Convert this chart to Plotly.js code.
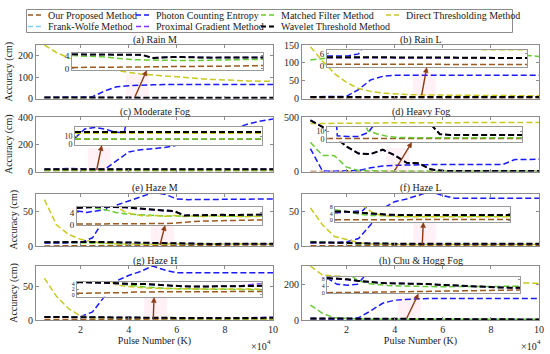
<!DOCTYPE html>
<html><head><meta charset="utf-8">
<script src="https://cdn.plot.ly/plotly-3.0.1.min.js"></script>
<style>html,body{margin:0;padding:0;background:#fff;}#chart{width:550px;height:354px;}</style>
</head><body><div id="chart"></div>
<script>
// ---------------- DATA ----------------
const pulses = [5000,10000,15000,20000,25000,30000,35000,40000,45000,50000,55000,60000,65000,70000,75000,80000,85000,90000,95000,100000];
const methods = ["Our Proposed Method","Photon Counting Entropy","Matched Filter Method","Direct Thresholding Method","Frank-Wolfe Method","Proximal Gradient Method","Wavelet Threshold Method"];
const panelTitles = ["(a) Rain M","(b) Rain L","(c) Moderate Fog","(d) Heavy Fog","(e) Haze M","(f) Haze L","(g) Haze H","(h) Chu & Hogg Fog"];
const xTickVals = [20000,40000,60000,80000,100000];
const xTickText = ["2","4","6","8","10"];

// (a) Rain M
const a_ours = [0.3,0.3,0.35,0.4,0.4,0.45,0.45,0.5,0.5,0.55,0.55,0.6,0.6,0.65,0.7,0.7,0.75,0.8,0.85,0.9];
const a_pce  = [5,5,5,5.2,8,35,55,60,63,64,65,65,65,65,65,65,65,65,65,65];
const a_mf   = [4.1,4.0,3.9,3.7,3.4,3.0,2.8,2.7,2.6,2.6,2.5,2.5,2.5,2.6,2.6,2.7,2.7,2.8,2.8,2.9];
const a_dt   = [250,215,190,170,152,140,130,122,115,110,104,100,96,92,89,86,84,82,81,80];
const a_fw   = [4.5,4.5,4.4,4.5,4.5,4.5,4.4,4.3,3.3,3.5,3.6,3.6,3.5,3.5,3.4,3.5,3.5,3.5,3.5,3.5];
const a_pg   = [4.4,4.4,4.4,4.5,4.4,4.4,4.4,4.2,3.4,3.5,3.6,3.5,3.6,3.5,3.5,3.5,3.5,3.5,3.5,3.5];
const a_wt   = [4.5,4.5,4.4,4.5,4.5,4.5,4.4,4.3,3.3,3.5,3.6,3.6,3.5,3.5,3.4,3.5,3.5,3.5,3.5,3.5];
// (b) Rain L
const b_ours = [0.9,0.9,0.9,0.85,0.85,0.85,0.85,0.8,0.8,0.8,0.8,0.8,0.8,0.8,0.8,0.8,0.8,0.8,0.8,0.8];
const b_pce  = [5,5,5,6,25,52,62,65,65,65,65,65,65,65,65,65,65,65,65,65];
const b_mf   = [108,112,117,121,125,128,130,132,134,136,137,137,136,134,131,128,125,122,120,118];
const b_dt   = [145,105,70,45,28,20,15,12,11,10,9.5,9,9,8.5,8.5,8,8,8,8,8];
const b_fw   = [4.4,4.4,4.4,4.3,4.3,4.3,4.3,4.2,4.2,4.2,4.2,4.1,4.1,4.1,4.1,4.1,4.0,4.0,4.0,4.0];
const b_pg   = [4.1,4.1,4.1,4.0,4.0,4.0,4.0,4.0,4.0,4.0,3.9,3.9,3.9,3.9,3.9,3.9,3.9,3.9,3.9,3.9];
const b_wt   = [4.4,4.4,4.4,4.3,4.3,4.3,4.3,4.2,4.2,4.2,4.2,4.1,4.1,4.1,4.1,4.1,4.0,4.0,4.0,4.0];
// (c) Moderate Fog
const c_ours = [6.5,6.5,6.5,6.5,6.5,6.5,6.5,6.5,6.5,6.5,6.5,6.5,6.5,6.5,6.5,6.5,6.5,6.5,6.5,6.5];
const c_pce  = [8,20,22,20,16,15,80,145,162,170,178,195,215,240,270,300,330,355,375,390];
const c_mf   = [7,7,7,7,7,7,7,7,7,7,7,7,7,7,7,7,7,7,7,7];
const c_dt   = [14.5,14.5,14.5,14.5,14.5,14.5,14.5,14.5,14.5,14.5,14.5,14.5,14.5,14.5,14.5,14.5,14.5,14.5,14.5,14.5];
const c_fw   = [16,16,16,16,16,16,16,16,16,16,16,16,16,16,16,16,16,16,16,16];
const c_pg   = [16,16,16,16,16,16,16,16,16,16,16,16,16,16,16,16,16,16,16,16];
const c_wt   = [16,16,16,16,16,16,16,16,16,16,16,16,16,16,16,16,16,16,16,16];
// (d) Heavy Fog
const d_ours = [0.5,0.5,0.5,0.5,0.5,0.5,0.5,0.5,0.5,0.5,0.5,0.5,0.5,0.5,0.5,0.5,0.5,0.5,0.5,0.5];
const d_pce  = [210,4,3,3,8,35,50,57,60,62,63,65,65,66,66,68,65,110,112,112];
const d_mf   = [268,148,145,40,10,6,3,2,1.5,1.5,1.5,1.5,1.5,1.5,1.5,1.5,1.5,1.5,1.5,1.5];
const d_dt   = [440,442,443,444,445,446,446,447,447,448,448,448,449,449,449,450,450,450,450,450];
const d_fw   = [470,410,320,230,165,160,200,150,80,75,20,6,5,5,5,5,5,5,5,5];
const d_pg   = [470,410,320,230,165,160,200,150,80,75,20,6,5,5,5,5,5,5,5,5];
const d_wt   = [470,410,320,230,165,160,200,150,80,75,20,6,5,5,5,5,5,5,5,5];
// (e) Haze M
const e_ours = [0.1,0.1,0.1,0.1,0.1,0.1,0.2,0.2,0.3,0.3,0.4,0.8,1.0,1.1,1.2,1.2,1.3,1.4,1.4,1.5];
const e_pce  = [4.5,4,4.5,5,12,40,60,66,72,78,76,69,68,68,68,69,69,69,69,69];
const e_mf   = [5.9,5.7,5.4,4.8,4.0,3.5,3.3,3.0,2.9,2.8,2.8,2.7,2.8,2.7,2.8,2.7,2.8,2.7,2.8,2.8];
const e_dt   = [68,31,17,10,6,4,3.2,2.8,3.0,2.7,3.0,2.6,2.9,2.6,2.9,2.6,2.8,2.5,2.7,2.6];
const e_fw   = [5.5,5.8,5.9,5.9,5.9,5.7,5.4,5.1,4.9,4.6,4.4,3.0,3.1,3.2,3.1,3.2,3.1,3.2,3.2,3.3];
const e_pg   = [5.4,5.7,5.8,5.8,5.8,5.6,5.3,5.0,4.8,4.5,4.3,3.0,3.1,3.1,3.1,3.1,3.1,3.1,3.2,3.2];
const e_wt   = [5.5,5.8,5.9,5.9,5.9,5.7,5.4,5.1,4.9,4.6,4.4,3.0,3.1,3.2,3.1,3.2,3.1,3.2,3.2,3.3];
// (f) Haze L
const f_ours = [0.3,0.3,0.3,0.3,0.3,0.35,0.35,0.35,0.4,0.4,0.4,0.4,0.4,0.45,0.45,0.45,0.5,0.5,0.5,0.5];
const f_pce  = [4.5,5,5.5,6,11,31,55,65,69,75,80,74,70,70,70,70,70,70,70,70];
const f_mf   = [6.5,5.5,4.5,3.5,3.0,2.8,2.6,2.5,2.5,2.5,2.5,2.5,2.5,2.5,2.5,2.5,2.5,2.5,2.5,2.5];
const f_dt   = [56,31,14,9,5,3,2.4,2.2,2.2,2.2,2.2,2.2,2.2,2.2,2.2,2.2,2.2,2.2,2.2,2.2];
const f_fw   = [5.5,5.5,5.0,4.5,4.0,3.6,3.4,3.3,3.2,3.2,3.2,3.2,3.2,3.2,3.2,3.2,3.2,3.2,3.2,3.2];
const f_pg   = [5.3,5.3,4.9,4.4,3.9,3.5,3.3,3.2,3.1,3.1,3.1,3.1,3.1,3.1,3.1,3.1,3.1,3.1,3.1,3.1];
const f_wt   = [5.5,5.5,5.0,4.5,4.0,3.6,3.4,3.3,3.2,3.2,3.2,3.2,3.2,3.2,3.2,3.2,3.2,3.2,3.2,3.2];
// (g) Haze H
const g_ours = [0.6,0.6,0.6,0.6,0.7,0.8,1.0,1.1,1.1,1.1,1.1,1.1,1.1,1.1,1.2,1.2,1.2,1.2,1.2,1.2];
const g_pce  = [5,5,5,5,12,35,58,66,72,80,74,70,70,70,70,70,70,70,70,70];
const g_mf   = [4.6,4.6,4.5,4.3,4.0,3.6,3.2,2.8,2.5,2.3,2.2,2.1,2.0,2.0,2.0,2.0,1.9,1.9,1.9,1.8];
const g_dt   = [62,35,17,6,3.5,3,2.6,2.4,2.3,2.2,2.2,2.2,2.1,2.1,2.2,2.1,2.1,2.0,2.0,2.0];
const g_fw   = [4.5,4.5,4.3,4.2,4.0,3.9,3.8,3.8,3.6,3.2,3.0,3.0,2.9,2.9,3.0,3.0,3.0,3.0,3.1,3.2];
const g_pg   = [4.4,4.4,4.2,4.1,3.9,3.8,3.7,3.7,3.5,3.1,2.9,2.9,2.9,2.9,3.0,3.0,3.1,3.3,3.6,4.0];
const g_wt   = [4.5,4.5,4.3,4.2,4.0,3.9,3.8,3.8,3.6,3.2,3.0,3.0,2.9,2.9,3.0,3.0,3.0,3.0,3.1,3.2];
// (h) Chu & Hogg Fog
const h_ours = [0,0,0.05,0.1,0.2,0.3,0.4,0.5,0.6,0.7,0.8,0.9,1.0,1.1,1.2,1.3,1.4,1.5,1.6,1.6];
const h_pce  = [8.8,5,4.5,5,12,50,93,110,115,118,120,120,120,120,120,120,120,120,120,120];
const h_mf   = [83,37,12,7.4,5.5,4.8,4.3,4.0,3.8,3.7,3.6,3.6,3.6,3.7,3.7,3.7,3.8,3.8,3.8,3.8];
const h_dt   = [300,250,245,240,236,232,228,225,222,220,218,216,214,213,212,211,210,208,206,204];
const h_fw   = [8.8,8.5,8.0,7.2,6.5,6.0,5.6,5.6,5.6,5.5,5.2,4.8,4.5,4.0,3.8,3.5,3.3,3.1,3.0,2.9];
const h_pg   = [8.6,8.3,7.8,7.0,6.4,5.9,5.6,5.6,5.5,5.4,5.1,4.7,4.4,4.0,3.7,3.4,3.2,3.0,2.9,2.8];
const h_wt   = [8.8,8.5,8.0,7.2,6.5,6.0,5.6,5.6,5.6,5.5,5.2,4.8,4.5,4.0,3.8,3.5,3.3,3.1,3.0,2.9];

const mainYRange = [[0,250],[0,150],[0,405],[0,500],[0,77],[0,77],[0,80],[0,300]];
const mainYTicks = [[0,100,200],[0,50,100,150],[0,200,400],[0,500],[0,50],[0,50],[0,50],[0,200]];
const insetYRange = [[-0.5,4.8],[-0.3,7.9],[-1,23],[-3.4,15.4],[-0.2,5.9],[-0.9,8.4],[-0.6,4.6],[-0.4,9.6]];
const insetYTicks = [[0,4],[0,6],[0,10],[0,10],[0,4],[0,4,8],[0,2,4],[0,4,8]];

// ---------------- STYLE / GEOMETRY ----------------
const W = 550, H = 354;
const FONT = "Liberation Serif, Times New Roman, serif";
const colors = ["#9c5a1e","#1a1aff","#66cc33","#c9c920","#80ccff","#8033ff","#000000"];
const widths = [1.5,1.5,1.5,1.5,1.5,1.5,2];
const colX = [[36,273],[302,539]];
const rowY = [[45,98.5],[117,171.5],[193.5,246],[266,320]];
const insetBox = [[72,263,53.3,70],[327,527,50,66.7],[75,262,126.7,145],[327,522,126.7,141.7],
                  [77,262,206.7,225],[335,510,206.7,221.7],[77,262,281.7,296.7],[327,520,276.7,293.3]];
const insetFontSize = [9,9,8,8,9,6,6,6];
const arrows = [[135,96.7,146.7,70.5],[421.7,95,426.7,67.5],[96.7,170,101.7,145.5],[395,170,411.7,142.5],
                [160,245,165,225.5],[422.3,244,423.3,222.5],[153.3,318.3,154,297.5],[406.7,318.3,418.3,294]];
const px = p => p / W, py = p => 1 - p / H;

const panels = [
  [a_ours,a_pce,a_mf,a_dt,a_fw,a_pg,a_wt],
  [b_ours,b_pce,b_mf,b_dt,b_fw,b_pg,b_wt],
  [c_ours,c_pce,c_mf,c_dt,c_fw,c_pg,c_wt],
  [d_ours,d_pce,d_mf,d_dt,d_fw,d_pg,d_wt],
  [e_ours,e_pce,e_mf,e_dt,e_fw,e_pg,e_wt],
  [f_ours,f_pce,f_mf,f_dt,f_fw,f_pg,f_wt],
  [g_ours,g_pce,g_mf,g_dt,g_fw,g_pg,g_wt],
  [h_ours,h_pce,h_mf,h_dt,h_fw,h_pg,h_wt]
];

const traces = [];
const layout = {
  width: W, height: H, margin: {l:0,r:0,t:0,b:0},
  paper_bgcolor: "#fff", plot_bgcolor: "#fff", showlegend: false,
  font: {family: FONT, size: 10, color: "#262626"},
  annotations: [], shapes: []
};
const axId = n => n === 1 ? "" : String(n);
const ARROW = "#8b3a12";
const titleFont = {family: FONT, size: 10, color: "#1a1a1a"};

for (let p = 0; p < 8; p++) {
  const col = p % 2, row = Math.floor(p / 2);
  const mi = p + 1, ii = p + 9;
  for (let m = 0; m < 7; m++) {
    const base = {x: pulses, y: panels[p][m], mode: "lines", name: methods[m],
      line: {color: colors[m], width: widths[m], dash: "6px,3px"}, hoverinfo: "skip", showlegend: false};
    traces.push(Object.assign({}, base, {xaxis: "x" + axId(mi), yaxis: "y" + axId(mi)}));
    traces.push(Object.assign({}, base, {xaxis: "x" + axId(ii), yaxis: "y" + axId(ii)}));
  }
  const axCommon = {showgrid: false, zeroline: false, showline: true, mirror: "ticks", linecolor: "#8c8c8c", linewidth: 1,
    ticks: "inside", ticklen: 3, tickcolor: "#8c8c8c", tickfont: {family: FONT, size: 10, color: "#262626"}, automargin: false};
  const xa = Object.assign({}, axCommon, {
    domain: [px(colX[col][0]), px(colX[col][1])], range: [1500, 100000], anchor: "y" + axId(mi),
    tickmode: "array", tickvals: xTickVals, ticktext: xTickText, showticklabels: row === 3});
  if (row === 3) xa.title = {text: "Pulse Number (K)", font: titleFont, standoff: 2};
  layout["xaxis" + axId(mi)] = xa;
  const ya = Object.assign({}, axCommon, {
    domain: [py(rowY[row][1]), py(rowY[row][0])], range: mainYRange[p], anchor: "x" + axId(mi),
    tickmode: "array", tickvals: mainYTicks[p]});
  if (col === 0) ya.title = {text: "Accuracy (cm)", font: titleFont, standoff: 3};
  layout["yaxis" + axId(mi)] = ya;
  const b = insetBox[p];
  layout["xaxis" + axId(ii)] = Object.assign({}, axCommon, {
    domain: [px(b[0]), px(b[1])], range: [5000, 100000], anchor: "y" + axId(ii), linecolor: "#9a9a9a",
    showticklabels: false, ticks: ""});
  layout["yaxis" + axId(ii)] = Object.assign({}, axCommon, {
    domain: [py(b[3]), py(b[2])], range: insetYRange[p], anchor: "x" + axId(ii), linecolor: "#9a9a9a",
    tickmode: "array", tickvals: insetYTicks[p], ticklen: 2,
    tickfont: {family: FONT, size: insetFontSize[p], color: "#262626"}});
  // panel title
  layout.annotations.push({text: panelTitles[p], xref: "paper", yref: "paper", showarrow: false,
    x: px((colX[col][0] + colX[col][1]) / 2), y: py(rowY[row][0] - 5.5), yanchor: "middle", xanchor: "center",
    font: titleFont});
  // arrow (line + head)
  const a = arrows[p];
  const dx = a[2] - a[0], dy = a[3] - a[1], L = Math.hypot(dx, dy), ux = dx / L, uy = dy / L;
  const hl = 5, hw = 2.4;
  const bx = a[2] - ux * hl, by = a[3] - uy * hl;
  layout.shapes.push({type: "rect", xref: "paper", yref: "paper", layer: "below",
    x0: px(a[0] - 9), x1: px(a[0] + 14), y0: py(a[1] + 2), y1: py(a[1] - 22),
    fillcolor: "rgba(255,175,205,0.18)", line: {width: 0}});
  layout.shapes.push({type: "line", xref: "paper", yref: "paper", x0: px(a[0]), y0: py(a[1]), x1: px(bx), y1: py(by),
    line: {color: ARROW, width: 1.4}});
  const p1 = [bx - uy * hw, by + ux * hw], p2 = [bx + uy * hw, by - ux * hw];
  layout.shapes.push({type: "path", xref: "paper", yref: "paper",
    path: `M ${px(a[2])} ${py(a[3])} L ${px(p1[0])} ${py(p1[1])} L ${px(p2[0])} ${py(p2[1])} Z`,
    fillcolor: ARROW, line: {color: ARROW, width: 0.5}});
  if (row === 3) {
    const xr = colX[col][1] + (col === 0 ? 0 : 4);
    layout.annotations.push({text: "\u00d710", xref: "paper", yref: "paper", showarrow: false,
      x: px(xr - 4), y: py(346.5), xanchor: "right", yanchor: "middle", font: titleFont});
    layout.annotations.push({text: "4", xref: "paper", yref: "paper", showarrow: false,
      x: px(xr), y: py(342), xanchor: "right", yanchor: "middle", font: {family: FONT, size: 7, color: "#1a1a1a"}});
  }
}

// manual legend
layout.shapes.push({type: "rect", xref: "paper", yref: "paper", x0: px(26.5), x1: px(512.5), y0: py(32.5), y1: py(9.5),
  line: {color: "#8c8c8c", width: 1}, fillcolor: "rgba(255,255,255,1)"});
const legCols = [27, 135, 260, 385];
const legRows = [15, 26.5];
for (let m = 0; m < 7; m++) {
  const r = m < 4 ? 0 : 1, c = m < 4 ? m : m - 4;
  const x0 = legCols[c], y = legRows[r];
  layout.shapes.push({type: "line", xref: "paper", yref: "paper", x0: px(x0 + 1), x1: px(x0 + 15), y0: py(y), y1: py(y),
    line: {color: colors[m], width: widths[m], dash: "5px,3px"}});
  layout.annotations.push({text: methods[m], xref: "paper", yref: "paper", showarrow: false,
    x: px(x0 + 19), y: py(y), xanchor: "left", yanchor: "middle", font: titleFont});
}

Plotly.newPlot("chart", traces, layout, {staticPlot: true});
</script>
</body></html>
